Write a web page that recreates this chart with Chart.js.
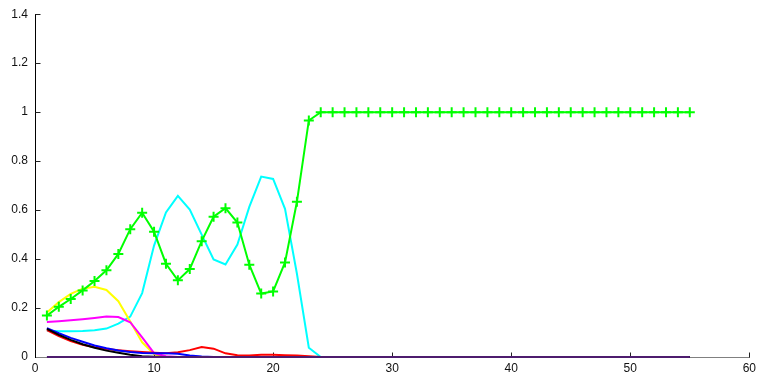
<!DOCTYPE html>
<html>
<head>
<meta charset="utf-8">
<script src="https://cdn.jsdelivr.net/npm/chart.js@4/dist/chart.umd.min.js"></script>
<style>
html,body{margin:0;padding:0;background:#fff;}
#wrap{width:760px;height:374px;position:relative;}
</style>
</head>
<body>
<div id="wrap"><canvas id="c" width="760" height="374"></canvas></div>
<script>
const xValues = [1,2,3,4,5,6,7,8,9,10,11,12,13,14,15,16,17,18,19,20,21,22,23,24,25,26,27,28,29,30,31,32,33,34,35,36,37,38,39,40,41,42,43,44,45,46,47,48,49,50,51,52,53,54,55];
const xTicks = [0,10,20,30,40,50,60];
const yTicks = [0,0.2,0.4,0.6,0.8,1,1.2,1.4];

const greenSeries = [0.169,0.205,0.237,0.272,0.31,0.354,0.421,0.522,0.589,0.512,
  0.381,0.313,0.359,0.473,0.573,0.608,0.549,0.377,0.259,0.268,
  0.386,0.634,0.966,1,1,1,1,1,1,1,
  1,1,1,1,1,1,1,1,1,1,
  1,1,1,1,1,1,1,1,1,1,
  1,1,1,1,1];
const cyanSeries = [0.108,0.105,0.105,0.106,0.109,0.116,0.136,0.165,0.261,0.455,
  0.59,0.658,0.602,0.5,0.398,0.378,0.459,0.613,0.737,0.727,
  0.605,0.34,0.038,0,0,0,0,0,0,0,
  0,0,0,0,0,0,0,0,0,0,
  0,0,0,0,0,0,0,0,0,0,
  0,0,0,0,0];
const yellowSeries = [0.182,0.224,0.258,0.279,0.287,0.274,0.228,0.145,0.06,0.012,
  0,0,0,0,0,0,0,0,0,0,
  0,0,0,0,0,0,0,0,0,0,
  0,0,0,0,0,0,0,0,0,0,
  0,0,0,0,0,0,0,0,0,0,
  0,0,0,0,0];
const magentaSeries = [0.143,0.146,0.15,0.154,0.159,0.165,0.163,0.142,0.08,0.016,
  0.003,0,0,0,0,0,0,0,0,0,
  0,0,0,0,0,0,0,0,0,0,
  0,0,0,0,0,0,0,0,0,0,
  0,0,0,0,0,0,0,0,0,0,
  0,0,0,0,0];
const redSeries = [0.11,0.085,0.065,0.05,0.04,0.033,0.028,0.024,0.02,0.017,
  0.015,0.019,0.028,0.041,0.034,0.015,0.007,0.006,0.009,0.009,
  0.007,0.006,0.003,0,0,0,0,0,0,0,
  0,0,0,0,0,0,0,0,0,0,
  0,0,0,0,0,0,0,0,0,0,
  0,0,0,0,0];
const blueSeries = [0.118,0.097,0.078,0.062,0.047,0.036,0.027,0.02,0.016,0.015,
  0.015,0.013,0.006,0.002,0,0,0,0,0,0,
  0,0,0,0,0,0,0,0,0,0,
  0,0,0,0,0,0,0,0,0,0,
  0,0,0,0,0,0,0,0,0,0,
  0,0,0,0,0];
const blackSeries = [0.115,0.09,0.07,0.052,0.038,0.026,0.017,0.009,0.003,0.001,
  0,0,0,0,0,0,0,0,0,0,
  0,0,0,0,0,0,0,0,0,0,
  0,0,0,0,0,0,0,0,0,0,
  0,0,0,0,0,0,0,0,0,0,
  0,0,0,0,0];
const purpleSeries = [0,0,0,0,0,0,0,0,0,0,
  0,0,0,0,0,0,0,0,0,0,
  0,0,0,0,0,0,0,0,0,0,
  0,0,0,0,0,0,0,0,0,0,
  0,0,0,0,0,0,0,0,0,0,
  0,0,0,0,0];

function pts(arr){ return xValues.map((x,i)=>({x:x,y:arr[i]})); }
function line(data,color,extra){
  return Object.assign({data:pts(data),borderColor:color,backgroundColor:color,borderWidth:2,pointRadius:0,tension:0,fill:false,clip:4},extra||{});
}

const axesAndTicks = {
  id:'axesAndTicks',
  beforeDatasetsDraw(chart){
    const ctx=chart.ctx, xs=chart.scales.x, ys=chart.scales.y, a=chart.chartArea;
    ctx.save();
    ctx.lineWidth=1;
    // bottom axis (gray)
    ctx.strokeStyle='#808080';
    ctx.beginPath();
    const by=Math.round(ys.getPixelForValue(0))+0.5;
    ctx.moveTo(Math.round(xs.getPixelForValue(0)),by);
    ctx.lineTo(Math.round(xs.getPixelForValue(60))+1,by);
    ctx.stroke();
    // left axis (black)
    ctx.strokeStyle='#000';
    ctx.beginPath();
    const lx=Math.round(xs.getPixelForValue(0))+0.5;
    ctx.moveTo(lx,Math.round(ys.getPixelForValue(1.4)));
    ctx.lineTo(lx,by+0.5);
    ctx.stroke();
    // inner ticks
    ctx.strokeStyle='#222';
    ctx.beginPath();
    xTicks.forEach(v=>{ if(v===0) return; const p=Math.round(xs.getPixelForValue(v))+0.5; ctx.moveTo(p,by); ctx.lineTo(p,by-5); });
    yTicks.forEach(v=>{ if(v===0) return; const p=Math.round(ys.getPixelForValue(v))+0.5; ctx.moveTo(lx,p); ctx.lineTo(lx+5,p); });
    ctx.stroke();
    ctx.restore();
  }
};

new Chart(document.getElementById('c'),{
  type:'line',
  data:{datasets:[
    line(greenSeries,'#00ff00',{pointRadius:5,pointStyle:'cross',pointBorderWidth:2}),
    line(purpleSeries,'#4d1c6e'),
    line(blackSeries,'#000000'),
    line(blueSeries,'#0000ff'),
    line(redSeries,'#ff0000'),
    line(magentaSeries,'#ff00ff'),
    line(yellowSeries,'#ffff00'),
    line(cyanSeries,'#00ffff')
  ]},
  options:{
    responsive:false,
    animation:false,
    events:[],
    layout:{padding:{left:0,right:8,top:13,bottom:0}},
    plugins:{legend:{display:false},tooltip:{enabled:false}},
    scales:{
      x:{type:'linear',min:0,max:60,
        afterBuildTicks(s){ s.ticks=xTicks.map(v=>({value:v})); },
        afterFit(s){ s.height=17; },
        grid:{display:false,drawTicks:false,tickLength:0},
        border:{display:false},
        ticks:{padding:4,color:'#111',font:{family:'Liberation Sans',size:12},maxRotation:0,autoSkip:false}
      },
      y:{type:'linear',min:0,max:1.4,
        afterBuildTicks(s){ s.ticks=yTicks.map(v=>({value:v})); },
        afterFit(s){ s.width=35; },
        grid:{display:false,drawTicks:false,tickLength:0},
        border:{display:false},
        ticks:{padding:7,color:'#111',font:{family:'Liberation Sans',size:12},autoSkip:false,
          callback:(v)=>String(Math.round(v*10)/10)}
      }
    }
  },
  plugins:[axesAndTicks]
});
</script>
</body>
</html>
